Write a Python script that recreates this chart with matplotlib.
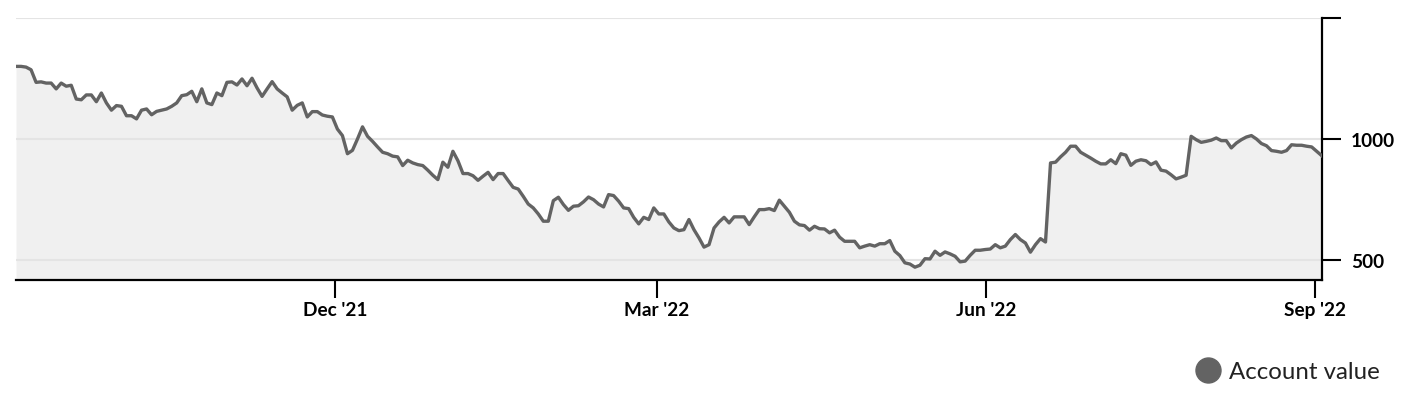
import matplotlib.pyplot as plt
import pandas as pd
from matplotlib.lines import Line2D

plt.rcParams['font.family'] = ['Lato', 'DejaVu Sans']

# account value, one reading per trading day
values = [
    1300, 1300, 1297, 1286, 1234, 1236, 1231, 1231, 1207, 1231,
    1218, 1222, 1165, 1162, 1182, 1182, 1154, 1190, 1149, 1119,
    1138, 1135, 1096, 1096, 1083, 1119, 1124, 1100, 1114, 1119,
    1124, 1135, 1149, 1179, 1183, 1197, 1154, 1207, 1149,
    1142, 1190, 1179, 1234, 1236, 1223, 1248, 1220, 1251, 1211,
    1176, 1207, 1237, 1207, 1190, 1174, 1119, 1139, 1149, 1091,
    1113, 1113, 1099, 1094, 1091, 1041, 1014, 939, 953, 1000,
    1050, 1011, 990, 967, 945, 939, 929,
    926, 890, 912, 901, 894, 890, 871, 850, 832, 904,
    883, 949, 910, 857, 857, 848, 829, 846, 862, 832,
    857, 857, 828, 800, 793, 763, 731, 715, 690, 660,
    660, 745, 759, 729, 705, 722, 724, 740,
    760, 749, 731, 719, 770, 766, 743, 715, 712, 676,
    649, 676, 667, 715, 690, 690, 657, 632, 621, 625,
    667, 625, 591, 553, 563, 632, 657, 676, 653, 678,
    678, 678, 646, 678, 708, 708, 712, 704, 747, 722,
    697, 660,
    645, 642, 623, 639, 629, 628, 612, 623, 594, 577,
    577, 577, 550, 557, 563, 557, 567, 567, 580, 536,
    518, 488, 483, 470, 478, 505, 504, 536, 519, 533,
    525, 515, 492, 495, 519, 540, 540, 543, 545, 563,
    550, 557, 584,
    605, 584, 570, 532, 563, 588, 574, 901, 904, 926,
    945, 970, 970, 945, 933, 921, 908, 897, 897, 914,
    898, 939, 933, 891, 908, 914, 910, 894, 905, 871,
    867, 852, 835, 842, 850,
    1011, 997, 986, 990, 995, 1004, 993, 993, 963, 983,
    997, 1008, 1014, 1000, 981, 972, 952, 949, 945, 952,
    976, 974, 974, 970, 967, 949, 931,
]
dates = pd.date_range("2021-09-02 20:00", "2022-09-02 22:00", periods=len(values))

tick_dates = pd.to_datetime(["2021-12-01", "2022-03-01", "2022-06-01", "2022-09-01"])
tick_labels = ["Dec '21", "Mar '22", "Jun '22", "Sep '22"]
y_ticks = [500, 1000, 1500]
y_labels = ["500", "1000", ""]

line_color = "#636363"

fig = plt.figure(figsize=(14.12, 4.06), dpi=100)
ax = fig.add_axes([16 / 1412, 1 - 281 / 406, 1306 / 1412, 262 / 406])

ymin = 417
ax.fill_between(dates, values, ymin, color="#f0f0f0", lw=0, zorder=1)
ax.plot(dates, values, color=line_color, lw=2.4, zorder=3)

ax.set_xlim(dates[0], pd.Timestamp("2022-09-03"))
ax.set_ylim(ymin, 1500)

for y in y_ticks:
    ax.axhline(y, color="#e4e4e4", lw=1.5, zorder=2)

ax.yaxis.tick_right()
ax.set_yticks(y_ticks)
ax.set_yticklabels(y_labels)
ax.set_xticks(tick_dates)
ax.set_xticklabels(tick_labels)

ax.tick_params(axis="x", direction="out", length=13, width=1.5, pad=2,
               labelsize=13.7, colors="black")
ax.tick_params(axis="y", direction="out", length=14, width=1.5, pad=7,
               labelsize=13.7, colors="black")
for lab in ax.get_xticklabels() + ax.get_yticklabels():
    lab.set_fontweight("bold")

for side in ["top", "left"]:
    ax.spines[side].set_visible(False)
for side in ["bottom", "right"]:
    ax.spines[side].set_linewidth(1.6)
    ax.spines[side].set_color("black")
ax.set_facecolor("none")

handle = Line2D([], [], marker="o", color=line_color, linestyle="none", markersize=18)
leg = fig.legend([handle], ["Account value"], loc="center", frameon=False,
                 bbox_to_anchor=(1288 / 1412, 1 - 373 / 406), fontsize=17.3,
                 handletextpad=0.35, handlelength=1.0)
for t in leg.get_texts():
    t.set_color("#222222")

fig.savefig("out.png", dpi=100)
